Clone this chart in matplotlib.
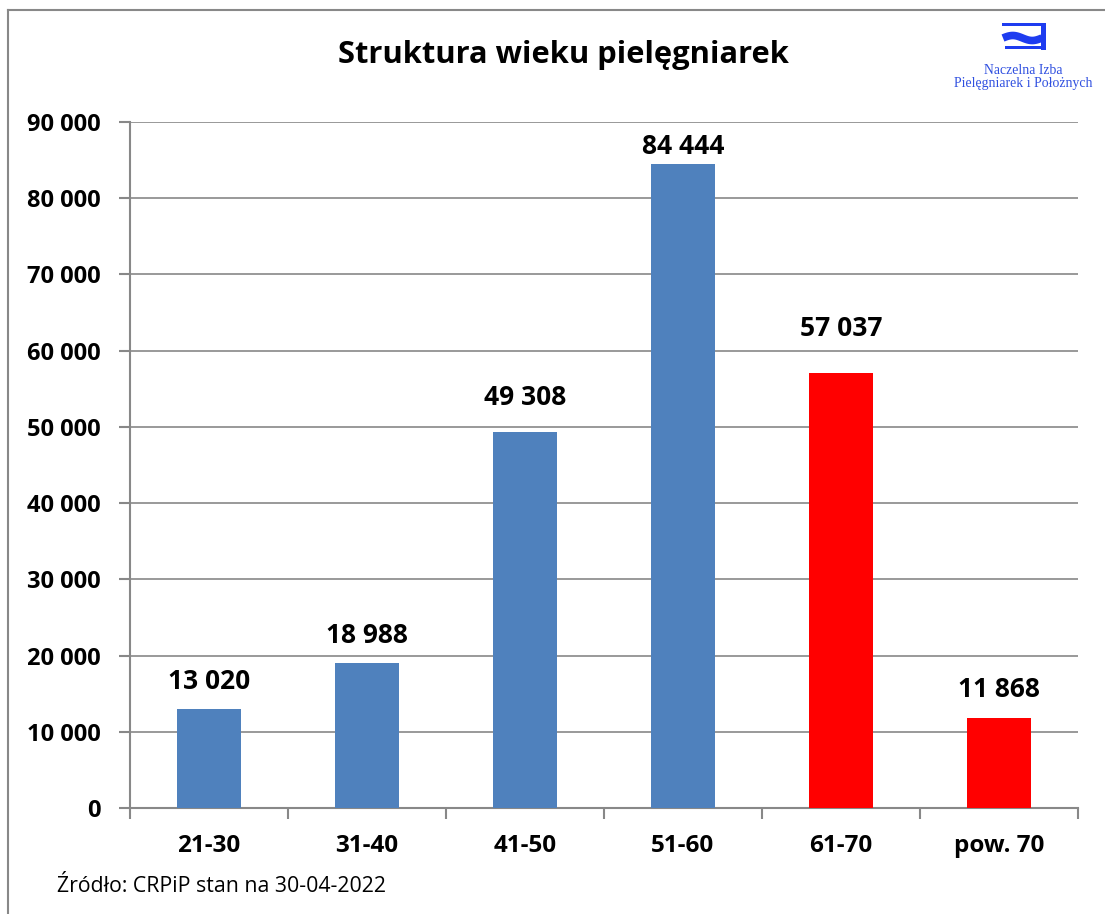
import matplotlib
matplotlib.use("Agg")
import matplotlib.pyplot as plt
from matplotlib.lines import Line2D
from matplotlib.patches import Rectangle
import numpy as np

categories = ["21-30", "31-40", "41-50", "51-60", "61-70", "pow. 70"]
values = [13020, 18988, 49308, 84444, 57037, 11868]
colors = ["#4F81BD", "#4F81BD", "#4F81BD", "#4F81BD", "#FF0000", "#FF0000"]
yticks = [0, 10000, 20000, 30000, 40000, 50000, 60000, 70000, 80000, 90000]
# gap (pixels) between bar top and label baseline, as placed in the original
label_gap_px = [20, 20, 27, 10, 37, 21]

FONT = "Open Sans"
plt.rcParams['font.family'] = [FONT, 'DejaVu Sans']

W, H = 1105, 914
fig = plt.figure(figsize=(W / 100, H / 100), dpi=100)
ax = fig.add_axes([130 / W, 1 - 808 / H, (1078 - 130) / W, (808 - 122) / H])

x = np.arange(len(categories))
ax.bar(x, values, width=0.4, color=colors, zorder=3)
ax.set_xlim(-0.5, len(categories) - 0.5)
ax.set_ylim(0, 90000)

def fmt(v):
    return f"{v:,}".replace(",", " ")

ax.set_yticks(yticks)
ax.set_yticklabels([fmt(v) for v in yticks], fontsize=17, fontweight="bold")
ax.set_xticks(x)
ax.set_xticklabels(categories, fontsize=17.5, fontweight="bold")
ax.set_xticks(np.arange(-0.5, len(categories)), minor=True)
ax.tick_params(axis="x", which="major", length=0, pad=19)
ax.tick_params(axis="x", which="minor", length=8, width=1.5, color="#888888")
ax.tick_params(axis="y", length=8, width=1.5, color="#888888", pad=13)

ax.grid(axis="y", color="#888888", linewidth=1.2, zorder=0)
for s in ["top", "right"]:
    ax.spines[s].set_visible(False)
for s in ["left", "bottom"]:
    ax.spines[s].set_color("#888888")
    ax.spines[s].set_linewidth(1.5)

for xi, v, g in zip(x, values, label_gap_px):
    ax.annotate(fmt(v), (xi, v), xytext=(0, g * 0.72), textcoords="offset points",
                ha="center", va="baseline", fontsize=19, fontweight="bold")

fig.text(563 / W, 1 - 55 / H, "Struktura wieku pielęgniarek", ha="center", va="center",
         fontsize=22.2, fontweight="bold")
fig.text(57 / W, 1 - 887 / H, "Źródło: CRPiP stan na 30-04-2022", ha="left", va="center",
         fontsize=15.3)

# frame
fig.add_artist(Line2D([8 / W, 8 / W], [0, 1 - 10 / H], color="#888888", lw=1.5, transform=fig.transFigure))
fig.add_artist(Line2D([8 / W, 1], [1 - 10 / H, 1 - 10 / H], color="#888888", lw=1.5, transform=fig.transFigure))

# logo
blue = "#1E3CF0"
def fr(x0, y0, w, h, c):
    fig.add_artist(Rectangle((x0 / W, 1 - (y0 + h) / H), w / W, h / H, color=c, transform=fig.transFigure, lw=0))
fr(1002, 23, 44, 3, blue)
fr(1041, 23, 4.5, 27, blue)
fr(1005, 46, 40, 3, blue)
t = np.linspace(0, 1, 80)
wx = 1003 + 39 * t
wy = 38 - 2.5 * np.sin(2 * np.pi * t)
fig.add_artist(Line2D(wx / W, 1 - wy / H, color=blue, lw=5.5, transform=fig.transFigure,
                      solid_capstyle="butt"))
fig.text(1023 / W, 1 - 70 / H, "Naczelna Izba", ha="center", va="center",
         fontsize=9.9, family="Liberation Serif", color="#3050E0")
fig.text(1023 / W, 1 - 84 / H, "Pielęgniarek i Położnych", ha="center", va="center",
         fontsize=9.9, family="Liberation Serif", color="#3050E0")

fig.savefig("out.png", dpi=100)
